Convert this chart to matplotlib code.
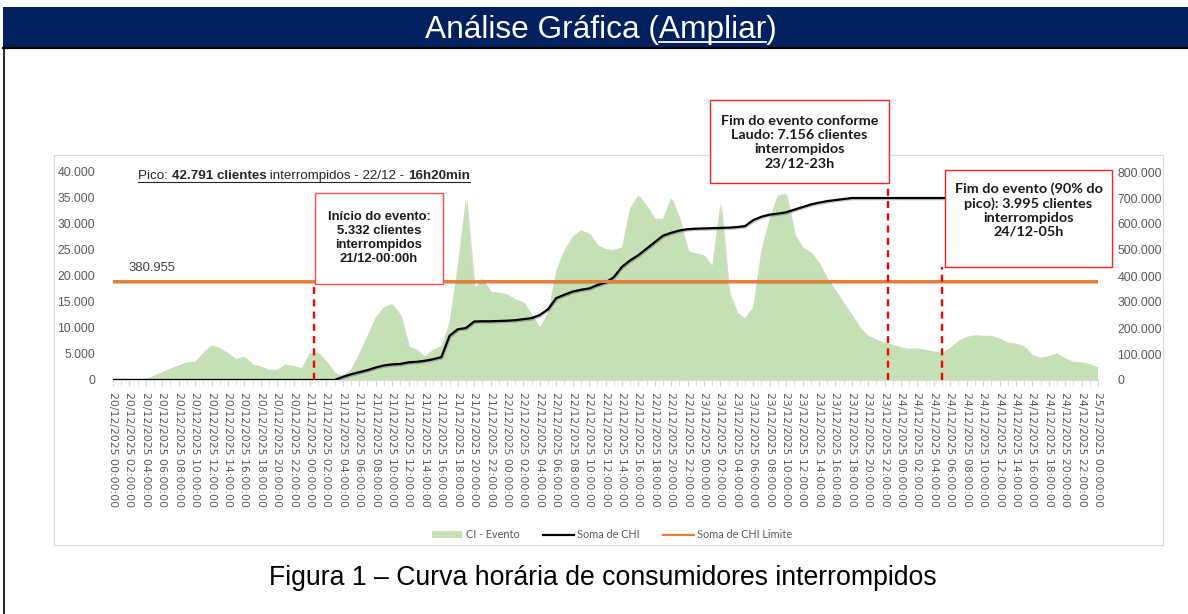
import numpy as np
import pandas as pd
import matplotlib.pyplot as plt
import matplotlib.patheffects as pe
from matplotlib.patches import Rectangle
from matplotlib.lines import Line2D
from matplotlib.ticker import FuncFormatter

# Dados (hora a hora, 20/12/2025 00h a 25/12/2025 00h)
horas = pd.date_range("2025-12-20 00:00", "2025-12-25 00:00", freq="h")
rotulos = [h.strftime("%d/%m/%Y %H:%M:%S") for h in horas]

ci_evento = [
    200, 300, 300, 250, 300,
    800, 1500, 2200, 2800, 3400,
    3500, 5200, 6700, 6200, 5200,
    4000, 4500, 3000, 2600, 2000,
    1900, 3000, 2700, 2300, 5200,
    5300, 3500, 1400, 900, 2000,
    5000, 8500, 12000, 14000, 14600,
    12500, 6500, 5900, 4500, 5800,
    6500, 11000, 22000, 35000, 17500,
    19500, 17000, 16800, 16500, 15500,
    15000, 12500, 10000, 13000, 21000,
    25000, 27500, 28800, 28200, 26000,
    25200, 25000, 25500, 33000, 35500,
    33500, 31000, 31000, 35000, 31000,
    24800, 24400, 24000, 21800, 34000,
    17000, 13000, 11900, 14000, 25000,
    31000, 35500, 35800, 28000, 25500,
    24600, 22500, 19500, 17200, 14800,
    12500, 10000, 8500, 7800, 7200,
    6800, 6300, 6000, 6100, 5800,
    5500, 5200, 6200, 7500, 8300,
    8600, 8500, 8500, 8000, 7200,
    7000, 6500, 4800, 4300, 4600,
    5100, 4200, 3500, 3400, 3100,
    2400,
]

soma_chi = [
    0, 0, 0, 0, 0, 0, 0, 0, 0, 0,
    0, 0, 0, 0, 0, 0, 0, 0, 0, 0,
    0, 0, 0, 0, 0, 0, 0, 0,
    12000, 22000, 30000, 38000, 48000, 56000, 60000, 62000, 68000, 70000,
    74000, 80000, 88000, 170000, 195000, 200000, 225000, 226000, 226000, 227000,
    228000, 230000, 234000, 238000, 250000, 272000, 315000, 328000, 340000, 347000,
    352000, 365000, 375000, 395000, 435000, 460000, 480000, 505000, 530000, 555000,
    566000, 575000, 580000, 582000, 583000, 584000, 585000, 586000, 588000, 592000,
    615000, 628000, 636000, 640000, 645000, 655000, 665000, 675000, 682000, 688000,
    692000, 696000, 700000,
    700000, 700000, 700000, 700000, 700000, 700000, 700000, 700000, 700000, 700000,
    700000, 700000, 700000, 700000, 700000, 700000, 700000, 700000, 700000, 700000,
    700000, 700000, 700000, 700000, 700000, 700000, 700000, 700000, 700000, 700000,
]

chi_limite = 380955

# marcos do evento (posição em horas desde 20/12 00h)
inicio_evento = 24.5
fim_laudo = 94.4
fim_90 = 101

W, H = 1188, 614
fig = plt.figure(figsize=(W / 100, H / 100), dpi=100)
fig.patch.set_facecolor("white")


def fx(px):
    return px / W


def fy(py):
    return 1 - py / H


def milhar(v, pos=None):
    return f"{int(round(v)):,}".replace(",", ".")


# cabeçalho azul
fig.add_artist(Rectangle((fx(3), fy(47)), (W - 3) / W, 40 / H, transform=fig.transFigure,
                         facecolor="#002060", edgecolor="none", zorder=1))
fig.add_artist(Line2D([fx(3), 1], [fy(48), fy(48)], transform=fig.transFigure, color="black", lw=1.6))
fig.add_artist(Line2D([fx(3.5), fx(3.5)], [fy(48), 0], transform=fig.transFigure, color="black", lw=1.2))

fonte_tit = dict(fontsize=22.8, family="Liberation Sans", color="white", va="baseline")
titulo = fig.text(fx(601), fy(38), "Análise Gráfica (Ampliar)", ha="center", zorder=3, **fonte_tit)

# moldura do gráfico excel
fig.add_artist(Rectangle((fx(54), fy(545)), (1163 - 54) / W, (545 - 155) / H, transform=fig.transFigure,
                         facecolor="none", edgecolor="#d9d9d9", lw=0.8))

# área principal
ax = fig.add_axes([fx(113), fy(380), (1098 - 113) / W, 208 / H])
x = np.arange(len(horas))
ax.fill_between(x, ci_evento, color="#c5e0b4", lw=0, zorder=2,
                path_effects=[pe.SimplePatchShadow(offset=(1.2, -0.8), shadow_rgbFace="#808080", alpha=0.3),
                              pe.Normal()])
ax.set_xlim(0, len(horas) - 1)
ax.set_ylim(0, 40000)
ax.set_yticks(np.arange(0, 40001, 5000))
ax.yaxis.set_major_formatter(FuncFormatter(milhar))
ax.tick_params(axis="y", length=0, pad=13, labelsize=8.8, labelcolor="#595959")
ax.set_xticks(x[::2])
ax.set_xticklabels(rotulos[::2], rotation=-90, fontsize=7.8, color="#595959", family="DejaVu Sans")
ax.set_xticks(x, minor=True)
ax.tick_params(axis="x", which="both", length=4, color="#d9d9d9", pad=5)
for lado in ["left", "right", "top"]:
    ax.spines[lado].set_visible(False)
ax.spines["bottom"].set_color("#d9d9d9")
for t in ax.get_yticklabels():
    t.set_family("Liberation Sans")

# eixo secundário
ax2 = ax.twinx()
ax2.plot(x, soma_chi, color="black", lw=1.6, zorder=3,
         path_effects=[pe.SimpleLineShadow(offset=(0.6, -0.9), alpha=0.22), pe.Normal()])
ax2.plot(x, [chi_limite] * len(x), color="#ed7d31", lw=2.2, zorder=3,
         path_effects=[pe.SimpleLineShadow(offset=(0, -1.1), alpha=0.22), pe.Normal()])
ax2.set_ylim(0, 800000)
ax2.set_yticks(np.arange(0, 800001, 100000))
ax2.yaxis.set_major_formatter(FuncFormatter(milhar))
ax2.tick_params(axis="y", length=0, pad=14, labelsize=8.8, labelcolor="#595959")
for t in ax2.get_yticklabels():
    t.set_family("Liberation Sans")
for lado in ax2.spines:
    ax2.spines[lado].set_visible(False)

# linhas tracejadas dos marcos
tracejado = dict(color="#ff0000", lw=1.7, ls=(0, (3, 2.2)), clip_on=False, zorder=4)
ax2.axvline(inicio_evento, ymin=0, ymax=(380 - 284) / 208, **tracejado)
ax2.axvline(fim_laudo, ymin=0, ymax=(380 - 183) / 208, **tracejado)
ax2.axvline(fim_90, ymin=0, ymax=(380 - 267) / 208, **tracejado)


def caixa(x0, y0, x1, y1, texto, yc, familia, tam, cor):
    fig.add_artist(Rectangle((fx(x0), fy(y1)), (x1 - x0) / W, (y1 - y0) / H, transform=fig.transFigure,
                             facecolor="white", edgecolor=cor, lw=1.0, zorder=5))
    fig.text(fx((x0 + x1) / 2), fy(yc), texto, ha="center", va="center", fontsize=tam,
             fontweight="bold", family=familia, linespacing=1.2, zorder=6, color="#1a1a1a")


caixa(315, 193, 443, 284, "Início do evento:\n5.332 clientes\ninterrompidos\n21/12-00:00h",
      238, "Liberation Sans", 9.4, "#ff4d4d")
caixa(710, 100, 889, 183, "Fim do evento conforme\nLaudo: 7.156 clientes\ninterrompidos\n23/12-23h",
      142, "Lato", 10.4, "#ff2020")
caixa(945, 170, 1112, 267, "Fim do evento (90% do\npico): 3.995 clientes\ninterrompidos\n24/12-05h",
      210, "Lato", 10.4, "#ff2020")

# rótulo do limite
fig.text(fx(128), fy(268), milhar(chi_limite), fontsize=9.4, color="#404040",
         family="Liberation Sans", va="center")

# texto do pico (sublinhado)
partes = [("Pico: ", "normal"), ("42.791 clientes", "bold"),
          (" interrompidos - 22/12 - ", "normal"), ("16h20min", "bold")]
render = fig.canvas.get_renderer()
xpos = 138
for txt, peso in partes:
    t = fig.text(fx(xpos), fy(179), txt, fontsize=9.6, fontweight=peso, family="Liberation Sans",
                 color="#262626", va="baseline")
    xpos += t.get_window_extent(render).width
fig.add_artist(Line2D([fx(138), fx(xpos)], [fy(181.5), fy(181.5)], transform=fig.transFigure,
                      color="#262626", lw=0.8))

# sublinhado do "Ampliar"
aux = fig.text(0, 0, "Análise Gráfica (", **fonte_tit)
w_pre = aux.get_window_extent(render).width
aux.remove()
aux = fig.text(0, 0, "Ampliar", **fonte_tit)
w_amp = aux.get_window_extent(render).width
aux.remove()
w_tot = titulo.get_window_extent(render).width
x_ini = 601 - w_tot / 2 + w_pre
fig.add_artist(Line2D([fx(x_ini), fx(x_ini + w_amp)], [fy(42), fy(42)], transform=fig.transFigure,
                      color="white", lw=1.3, zorder=3))

# legenda
itens = [Rectangle((0, 0), 1, 1, facecolor="#c5e0b4", edgecolor="none"),
         Line2D([], [], color="black", lw=1.6),
         Line2D([], [], color="#ed7d31", lw=1.6)]
leg = fig.legend(itens, ["CI - Evento", "Soma de CHI", "Soma de CHI Limite"], loc="center",
                 bbox_to_anchor=(fx(612), fy(535)), ncol=3, frameon=False,
                 prop={"family": "Lato", "size": 7.8}, labelcolor="#595959",
                 handlelength=2.8, handleheight=0.6, columnspacing=2.2, handletextpad=0.3)

# legenda da figura
fig.text(fx(603), fy(578), "Figura 1 – Curva horária de consumidores interrompidos", ha="center",
         va="center", fontsize=19.2, family="Liberation Sans", color="black")

fig.savefig("out.png", dpi=100)
